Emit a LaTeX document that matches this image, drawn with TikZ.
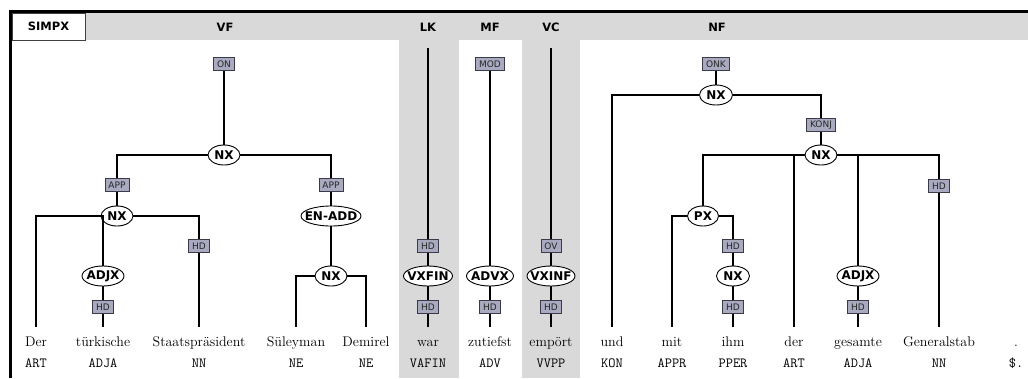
\documentclass[tikz,border=0pt]{standalone}
\usepackage{fontspec}
\newfontfamily\dvs{DejaVu Sans}
\usetikzlibrary{shapes.geometric}
\definecolor{fieldgray}{HTML}{D9D9D9}
\definecolor{fnfill}{HTML}{A9AABF}
\definecolor{fnline}{HTML}{3A3A48}
% zero-width box so that the ellipse size is fixed by minimum width only
\newcommand\zerowd[1]{\hbox to 0pt{\hss#1\hss}}

\begin{document}
\begin{tikzpicture}[x=1pt,y=-1pt,
  cat/.style={ellipse, draw=black, line width=0.9pt, fill=white, inner sep=0pt,
    minimum height=20pt, font=\dvs\bfseries\fontsize{12}{13}\selectfont},
  fn/.style={rectangle, draw=fnline, line width=0.8pt, fill=fnfill, inner xsep=3.5pt,
    inner ysep=0pt, minimum width=20pt, minimum height=13pt,
    font=\dvs\fontsize{9}{10}\selectfont, text=black!85},
  word/.style={anchor=base, inner xsep=0pt, inner ysep=0pt, text height=19pt,
    text depth=4pt, font=\fontsize{14}{16}\selectfont},
  tag/.style={anchor=base, inner sep=0pt, font=\ttfamily\fontsize{14}{16}\selectfont},
  field/.style={font=\dvs\bfseries\fontsize{11.5}{13}\selectfont},
  branch/.style={line width=1.1pt}]
\useasboundingbox (0,0) rectangle (1028,378);

% topological fields
\fill[fieldgray] (12,13) rectangle (1028,40);
\fill[fieldgray] (399,40) rectangle (459,378);
\fill[fieldgray] (522,40) rectangle (580,378);
\node[field, draw=black!75, line width=1pt, fill=white, minimum width=73pt,
  minimum height=27pt] (simpx) at (48.5,26.5) {SIMPX};
\draw[line width=3pt] (9,11.5) -- (1028,11.5);
\draw[line width=3pt] (10.5,10) -- (10.5,378);
\node[field] (vf) at (225,27) {VF};
\node[field] (lk) at (428,27) {LK};
\node[field] (mf) at (490,27) {MF};
\node[field] (vc) at (551,27) {VC};
\node[field] (nf) at (717,27) {NF};

% words and part-of-speech tags
\foreach \i/\x/\w/\t in {1/36/Der/ART, 2/103/türkische/ADJA, 3/199/Staatspräsident/NN,
    4/296/Süleyman/NE, 5/366/Demirel/NE, 6/428/war/VAFIN, 7/490/zutiefst/ADV,
    8/551/empört/VVPP, 9/612/und/KON, 10/672/mit/APPR, 11/733/ihm/PPER,
    12/794/der/ART, 13/858/gesamte/ADJA, 14/939/Generalstab/NN, 15/1016/./\$.} {
  \node[word] (w\i) at (\x,346) {\w};
  \node[tag] (t\i) at (\x,367) {\t};
}

% Vorfeld
\node[fn] (on) at (224,64) {ON};
\node[cat, minimum width=32pt] (nx1) at (224,155) {\zerowd{NX}};
\node[fn] (app1) at (117,185) {APP};
\node[fn] (app2) at (331,185) {APP};
\node[cat, minimum width=32pt] (nx2) at (117,216) {\zerowd{NX}};
\node[cat, minimum width=60pt] (enadd) at (331,216) {\zerowd{EN-ADD}};
\node[fn] (hd1) at (199,246) {HD};
\node[cat, minimum width=42pt] (adjx1) at (103,276) {\zerowd{ADJX}};
\node[fn] (hd2) at (103,307) {HD};
\node[cat, minimum width=32pt] (nx3) at (331,276) {\zerowd{NX}};

\draw[branch] (on) -- (nx1);
\draw[branch] (nx1) -| (app1);
\draw[branch] (app1) -- (nx2);
\draw[branch] (nx1) -| (app2);
\draw[branch] (app2) -- (enadd);
\draw[branch] (nx2) -| (w1);
\draw[branch] (nx2) -| (adjx1);
\draw[branch] (adjx1) -- (hd2);
\draw[branch] (hd2) -- (w2);
\draw[branch] (nx2) -| (hd1);
\draw[branch] (hd1) -- (w3);
\draw[branch] (enadd) -- (nx3);
\draw[branch] (nx3) -| (w4);
\draw[branch] (nx3) -| (w5);

% linke Klammer
\coordinate (lktop) at (428,48);
\node[fn] (hd3) at (428,246) {HD};
\node[cat, minimum width=49pt] (vxfin) at (428,276) {\zerowd{VXFIN}};
\node[fn] (hd4) at (428,307) {HD};
\draw[branch] (lktop) -- (hd3);
\draw[branch] (hd3) -- (vxfin);
\draw[branch] (vxfin) -- (hd4);
\draw[branch] (hd4) -- (w6);

% Mittelfeld
\node[fn] (mod) at (490,64) {MOD};
\node[cat, minimum width=47pt] (advx) at (490,276) {\zerowd{ADVX}};
\node[fn] (hd5) at (490,307) {HD};
\draw[branch] (mod) -- (advx);
\draw[branch] (advx) -- (hd5);
\draw[branch] (hd5) -- (w7);

% Verbalkomplex
\coordinate (vctop) at (551,48);
\node[fn] (ov) at (551,246) {OV};
\node[cat, minimum width=48pt] (vxinf) at (551,276) {\zerowd{VXINF}};
\node[fn] (hd6) at (551,307) {HD};
\draw[branch] (vctop) -- (ov);
\draw[branch] (ov) -- (vxinf);
\draw[branch] (vxinf) -- (hd6);
\draw[branch] (hd6) -- (w8);

% Nachfeld
\node[fn] (onk) at (716,64) {ONK};
\node[cat, minimum width=33pt] (nx4) at (716,95) {\zerowd{NX}};
\node[fn] (konj) at (821,125) {KONJ};
\node[cat, minimum width=32pt] (nx5) at (821,155) {\zerowd{NX}};
\node[fn] (hd10) at (939,186) {HD};
\node[cat, minimum width=31pt] (px) at (703,216) {\zerowd{PX}};
\node[fn] (hd7) at (733,246) {HD};
\node[cat, minimum width=33pt] (nx6) at (733,276) {\zerowd{NX}};
\node[fn] (hd8) at (733,307) {HD};
\node[cat, minimum width=42pt] (adjx2) at (858,276) {\zerowd{ADJX}};
\node[fn] (hd9) at (858,307) {HD};

\draw[branch] (onk) -- (nx4);
\draw[branch] (nx4) -| (w9);
\draw[branch] (nx4) -| (konj);
\draw[branch] (konj) -- (nx5);
\draw[branch] (nx5) -| (px);
\draw[branch] (px) -| (w10);
\draw[branch] (px) -| (hd7);
\draw[branch] (hd7) -- (nx6);
\draw[branch] (nx6) -- (hd8);
\draw[branch] (hd8) -- (w11);
\draw[branch] (nx5) -| (w12);
\draw[branch] (nx5) -| (adjx2);
\draw[branch] (adjx2) -- (hd9);
\draw[branch] (hd9) -- (w13);
\draw[branch] (nx5) -| (hd10);
\draw[branch] (hd10) -- (w14);
\end{tikzpicture}
\end{document}
